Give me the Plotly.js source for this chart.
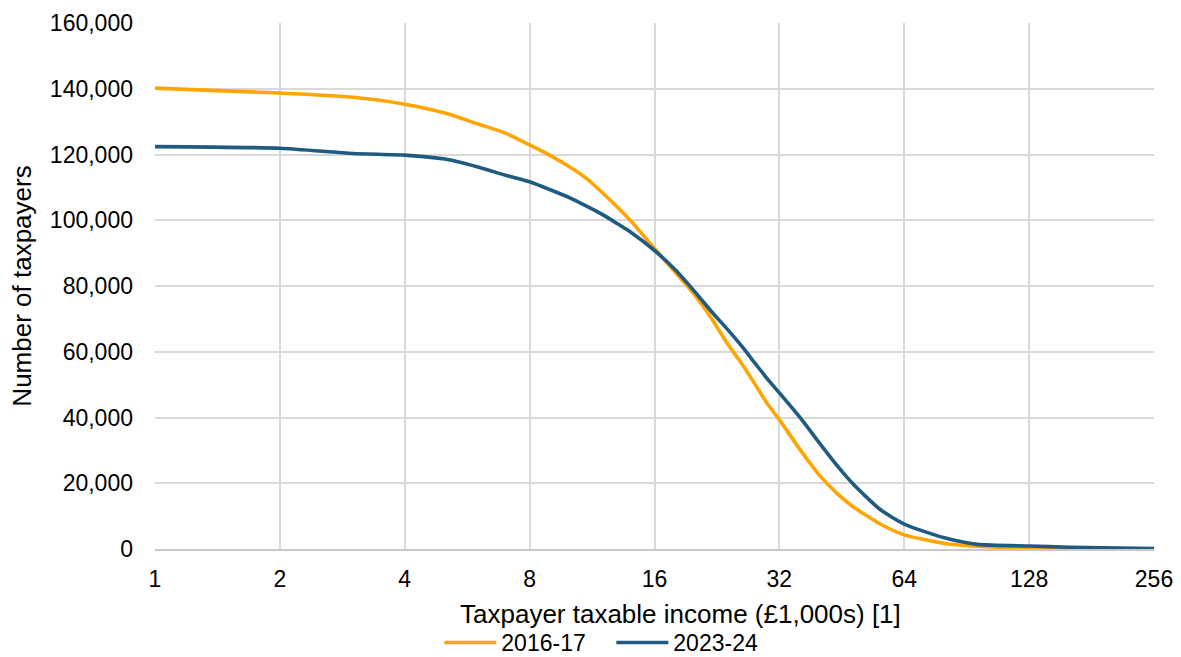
<!DOCTYPE html>
<html>
<head>
<meta charset="utf-8">
<script src="https://cdn.plot.ly/plotly-3.0.1.min.js"></script>
<style>
  html, body { margin: 0; padding: 0; background: #ffffff; }
  #chart { width: 1181px; height: 657px; }
</style>
</head>
<body>
<div id="chart"></div>
<script>
// Taxable income in £1,000s (log2 scale)
const incomeK = [1, 2, 3, 4, 5, 6, 7, 8, 9, 10, 11, 12, 13, 14, 16, 18, 20, 22, 24, 26, 28, 30, 32, 36, 40, 44, 48, 56, 64, 80, 96, 128, 160, 192, 256];

// Number of taxpayers per income level
const taxpayers2016 = [140200, 138700, 137400, 135300, 132600, 129300, 126500, 122900, 119600, 116200, 112600, 108300, 104100, 99900, 91400, 84000, 77300, 70000, 62400, 56300, 50000, 44000, 39300, 30000, 22400, 17000, 13000, 7600, 4300, 1700, 850, 200, 100, 50, 0];
const taxpayers2023 = [122400, 121900, 120300, 119800, 118600, 116200, 113700, 111700, 109200, 106800, 104200, 101700, 99000, 96400, 90800, 84800, 78300, 72100, 66800, 61600, 56400, 51600, 47500, 39800, 32200, 25500, 20000, 12000, 7600, 3400, 1400, 900, 550, 350, 100];

const seriesNames = ['2016-17', '2023-24'];
const seriesColors = ['#FFA500', '#1F5A80'];

const xTicks = [1, 2, 4, 8, 16, 32, 64, 128, 256];
const yTicks = [0, 20000, 40000, 60000, 80000, 100000, 120000, 140000, 160000];

const xTitle = 'Taxpayer taxable income (£1,000s) [1]';
const yTitle = 'Number of taxpayers';

const font = 'Arial, "Liberation Sans", sans-serif';
const tickFont = { family: font, size: 23, color: '#000000' };
const titleFont = { family: font, size: 26, color: '#000000' };

const traces = [taxpayers2016, taxpayers2023].map((vals, i) => ({
  type: 'scatter',
  mode: 'lines',
  name: seriesNames[i],
  x: incomeK,
  y: vals,
  line: { color: seriesColors[i], width: 3.6, shape: 'spline', smoothing: 0.6 },
  hoverinfo: 'x+y+name'
}));

const layout = {
  width: 1181,
  height: 657,
  paper_bgcolor: '#ffffff',
  plot_bgcolor: '#ffffff',
  margin: { l: 155, r: 27, t: 23, b: 108, pad: 0, autoexpand: false },
  font: { family: font, size: 23, color: '#000000' },
  showlegend: true,
  legend: {
    orientation: 'h',
    xref: 'container',
    yref: 'container',
    x: 0.372,
    xanchor: 'left',
    y: 0.022,
    yanchor: 'middle',
    itemwidth: 52,
    entrywidth: 105,
    entrywidthmode: 'pixels',
    font: tickFont,
    bgcolor: 'rgba(0,0,0,0)',
    tracegroupgap: 0
  },
  // x-axis title is placed as an annotation so it can sit slightly right of centre
  annotations: [{
    text: xTitle,
    xref: 'paper',
    yref: 'paper',
    x: 0.5265,
    y: -0.124,
    xanchor: 'center',
    yanchor: 'middle',
    showarrow: false,
    font: titleFont
  }],
  xaxis: {
    type: 'log',
    range: [0, Math.log10(256)],
    tickmode: 'array',
    tickvals: xTicks,
    ticktext: xTicks.map(String),
    showgrid: true,
    gridcolor: '#d9d9d9',
    gridwidth: 1.6,
    zeroline: false,
    showline: true,
    linecolor: '#c8c8c8',
    linewidth: 1.6,
    ticks: '',
    ticklabelstandoff: 9,
    tickfont: tickFont,
    automargin: false,
    fixedrange: true
  },
  yaxis: {
    range: [0, 160000],
    tickmode: 'array',
    tickvals: yTicks,
    ticktext: yTicks.map(v => v.toLocaleString('en-GB')),
    showgrid: true,
    gridcolor: '#d9d9d9',
    gridwidth: 1.6,
    zeroline: false,
    showline: false,
    ticks: '',
    ticklabelstandoff: 21,
    tickfont: tickFont,
    title: { text: yTitle, font: titleFont, standoff: 10 },
    automargin: false,
    fixedrange: true
  }
};

Plotly.newPlot('chart', traces, layout, { displayModeBar: false });
</script>
</body>
</html>
